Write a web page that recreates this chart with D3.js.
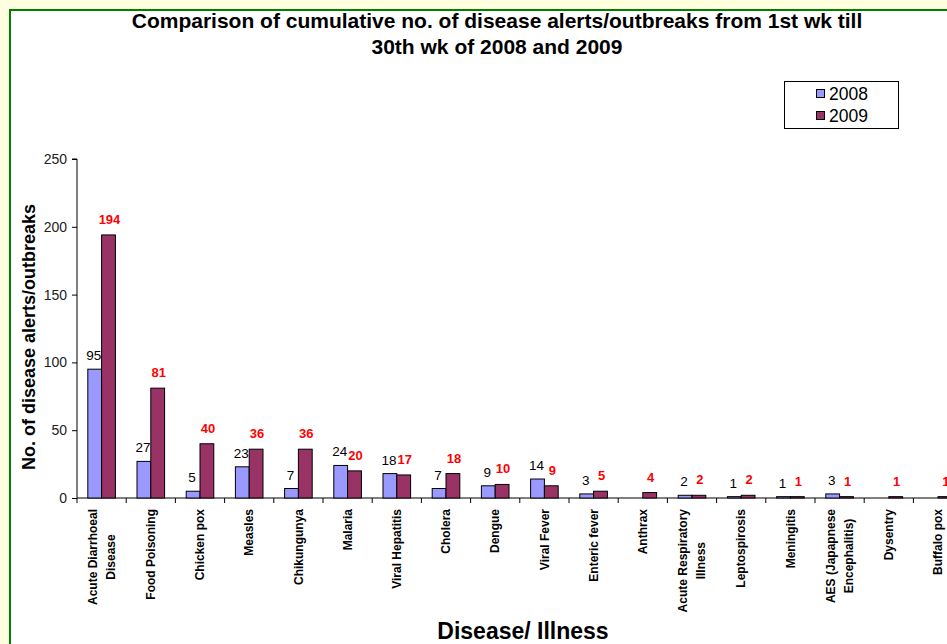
<!DOCTYPE html>
<html>
<head>
<meta charset="utf-8">
<script src="https://cdn.jsdelivr.net/npm/d3@7"></script>
<style>
  html, body { margin: 0; padding: 0; background: #ffffe0; }
  svg { display: block; font-family: "Liberation Sans", Arial, sans-serif; }
</style>
</head>
<body>
<svg id="chart" width="947" height="644"></svg>
<script>
const diseases = [
  "Acute Diarrhoeal|Disease", "Food Poisoning", "Chicken pox", "Measles", "Chikungunya",
  "Malaria", "Viral Hepatitis", "Cholera", "Dengue", "Viral Fever", "Enteric fever",
  "Anthrax", "Acute Respiratory|Illness", "Leptospirosis", "Meningitis",
  "AES (Japapnese|Encephalitis)", "Dysentry", "Buffalo pox"
];
const y2008 = [95, 27, 5, 23, 7, 24, 18, 7, 9, 14, 3, 0, 2, 1, 1, 3, 0, 0];
const y2009 = [194, 81, 40, 36, 36, 20, 17, 18, 10, 9, 5, 4, 2, 2, 1, 1, 1, 1];
const yTicks = [0, 50, 100, 150, 200, 250];
const years = ["2008", "2009"];
const colors = ["#9999ff", "#993366"];

const svg = d3.select("#chart");

// frame: white panel with green border, cropped at right/bottom
svg.append("rect").attr("x", 10).attr("y", 10).attr("width", 960).attr("height", 660)
  .attr("fill", "#fff").attr("stroke", "#008000").attr("stroke-width", 2);

const x0 = 77, bandW = 49.2, yBase = 498, yTop = 159;
const x = d3.scaleBand().domain(d3.range(diseases.length)).range([x0, x0 + bandW * diseases.length]);
const y = d3.scaleLinear().domain([0, 250]).range([yBase, yTop]);
const barW = 13.8;

// title
const title = svg.append("text").attr("text-anchor", "middle").attr("font-weight", "bold")
  .attr("font-size", 21).attr("fill", "#000");
title.append("tspan").attr("x", 497).attr("y", 28)
  .text("Comparison of cumulative no. of disease alerts/outbreaks from 1st wk till");
title.append("tspan").attr("x", 497).attr("y", 54).text("30th wk of 2008 and 2009");

// y axis
const yAxis = d3.axisLeft(y).tickValues(yTicks).tickSize(5).tickPadding(5);
const gy = svg.append("g").attr("transform", `translate(${x0},0)`).call(yAxis);
gy.select(".domain").attr("d", `M-5,${yTop}H0V${yBase}`).attr("stroke", "#000");
gy.selectAll(".tick line").attr("stroke", "#000");
gy.selectAll(".tick text").attr("font-size", 14).attr("fill", "#222")
  .attr("font-family", "Liberation Sans, Arial, sans-serif");

// x axis line and ticks at category boundaries
svg.append("line").attr("x1", x0).attr("x2", 947).attr("y1", yBase).attr("y2", yBase)
  .attr("stroke", "#000");
svg.append("g").selectAll("line").data(d3.range(diseases.length + 1)).join("line")
  .attr("x1", d => x0 + d * x.step()).attr("x2", d => x0 + d * x.step())
  .attr("y1", yBase).attr("y2", yBase + 5).attr("stroke", "#000");

// bars
const series = [y2008, y2009];
series.forEach((vals, s) => {
  const pts = vals.map((v, i) => ({ v, i }));
  const g = svg.append("g");
  g.selectAll("rect").data(pts).join("rect")
    .attr("x", d => x(d.i) + x.bandwidth() / 2 + (s === 0 ? -barW : 0))
    .attr("y", d => y(d.v))
    .attr("width", barW)
    .attr("height", d => Math.max(yBase - y(d.v), 0))
    .attr("fill", colors[s]).attr("stroke", "#000").attr("stroke-width", 1);
  g.selectAll("text").data(pts.filter(d => d.v > 0)).join("text")
    .attr("x", d => x(d.i) + x.bandwidth() / 2 + (s === 0 ? -barW / 2 - 1 : barW / 2 + 1))
    .attr("y", d => y(d.v) - (s === 0 ? 9 : 11))
    .attr("text-anchor", "middle")
    .attr("font-size", s === 0 ? 13.5 : 13)
    .attr("font-weight", s === 0 ? "normal" : "bold")
    .attr("fill", s === 0 ? "#000" : "#ff0000")
    .text(d => d.v);
});

// category labels, rotated, block anchored at the axis
const labG = svg.append("g").attr("font-family", "'Liberation Sans Narrow', 'Arial Narrow', sans-serif")
  .attr("font-weight", "bold").attr("font-size", 12).attr("fill", "#000");
diseases.forEach((name, i) => {
  const lines = name.split("|");
  const cx = x(i) + x.bandwidth() / 2;
  const t = labG.append("g").attr("transform", `translate(${cx},509) rotate(-90)`);
  const texts = lines.map((ln, k) => t.append("text")
    .attr("text-anchor", "middle")
    .attr("y", (k - (lines.length - 1) / 2) * 18)
    .attr("dy", "0.35em").text(ln));
  const maxLen = d3.max(texts, tx => tx.node().getComputedTextLength());
  texts.forEach(tx => tx.attr("x", -maxLen / 2));
});

// axis titles
svg.append("text").attr("transform", "translate(35,337) rotate(-90)")
  .attr("text-anchor", "middle").attr("font-weight", "bold").attr("font-size", 18)
  .text("No. of disease alerts/outbreaks");
svg.append("text").attr("x", 523).attr("y", 639).attr("text-anchor", "middle")
  .attr("font-weight", "bold").attr("font-size", 23).text("Disease/ Illness");

// legend
const lg = svg.append("g");
lg.append("rect").attr("x", 784.5).attr("y", 81.5).attr("width", 114).attr("height", 47)
  .attr("fill", "#fff").attr("stroke", "#000");
years.forEach((yr, i) => {
  lg.append("rect").attr("x", 816.5).attr("y", 89.5 + i * 22).attr("width", 8).attr("height", 8)
    .attr("fill", colors[i]).attr("stroke", "#000");
  lg.append("text").attr("x", 829).attr("y", 99.5 + i * 22).attr("font-size", 17.5).text(yr);
});
</script>
</body>
</html>
